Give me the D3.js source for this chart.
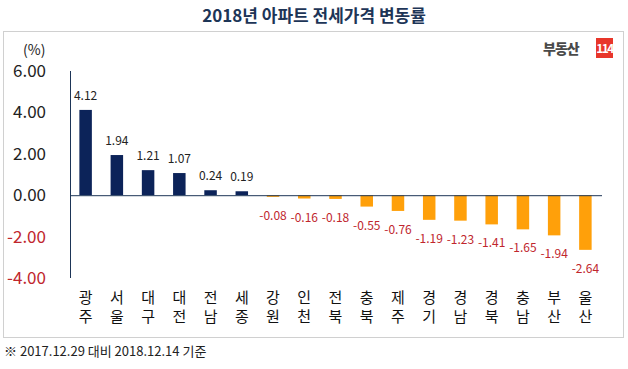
<!DOCTYPE html>
<html>
<head>
<meta charset="utf-8">
<script src="https://cdn.jsdelivr.net/npm/d3@7"></script>
<style>
  body { margin: 0; background: #fff; }
  svg { display: block; font-family: "Noto Sans CJK KR", "Noto Sans", sans-serif; }
</style>
</head>
<body>
<svg id="chart"></svg>
<script>
// data
const regions = ["광주", "서울", "대구", "대전", "전남", "세종", "강원", "인천", "전북", "충북", "제주", "경기", "경남", "경북", "충남", "부산", "울산"];
const changes = [4.12, 1.94, 1.21, 1.07, 0.24, 0.19, -0.08, -0.16, -0.18, -0.55, -0.76, -1.19, -1.23, -1.41, -1.65, -1.94, -2.64];
const yTicks = [6, 4, 2, 0, -2, -4];

const W = 628, H = 369;
const svg = d3.select("#chart").attr("width", W).attr("height", H);

// title
svg.append("text")
    .attr("x", 314).attr("y", 22)
    .attr("text-anchor", "middle")
    .attr("font-size", "17px").attr("font-weight", "bold")
    .attr("fill", "#1d3557")
    .text("2018년 아파트 전세가격 변동률");

// frame
svg.append("rect")
    .attr("x", 3.5).attr("y", 31.5).attr("width", 620).attr("height", 306)
    .attr("fill", "none").attr("stroke", "#d0d0d0");

// unit
svg.append("text")
    .attr("x", 23).attr("y", 55)
    .attr("font-size", "14px").attr("fill", "#222")
    .text("(%)");

// logo
svg.append("text")
    .attr("x", 543).attr("y", 54)
    .attr("font-size", "14px").attr("font-weight", "900")
    .attr("fill", "#4a4a4a").attr("letter-spacing", "-1")
    .text("부동산");
svg.append("rect")
    .attr("x", 596).attr("y", 38).attr("width", 17).attr("height", 20)
    .attr("fill", "#e8362a");
svg.append("text")
    .attr("x", 604.5).attr("y", 53)
    .attr("text-anchor", "middle")
    .attr("font-size", "12px").attr("font-weight", "bold")
    .attr("fill", "#fff").attr("letter-spacing", "-1.5")
    .text("114");

// scales
const x = d3.scaleBand().domain(regions).range([70, 601]).paddingInner(0.6).paddingOuter(0.3);
const y = d3.scaleLinear().domain([-4, 6]).range([278, 71]);

// y axis line
svg.append("line")
    .attr("x1", 70.5).attr("x2", 70.5)
    .attr("y1", y(6)).attr("y2", y(-4))
    .attr("stroke", "#1d3557").attr("stroke-width", 1);

// y tick labels
svg.append("g").selectAll("text")
    .data(yTicks)
    .join("text")
    .attr("x", 46).attr("y", d => y(d) + 6)
    .attr("text-anchor", "end")
    .attr("font-size", "17px")
    .attr("fill", d => d < 0 ? "#c0262d" : "#222")
    .text(d => d.toFixed(2));

// bars
svg.append("g").selectAll("rect")
    .data(changes)
    .join("rect")
    .attr("x", (d, i) => x(regions[i]))
    .attr("width", x.bandwidth())
    .attr("y", d => y(Math.max(0, d)))
    .attr("height", d => Math.abs(y(d) - y(0)))
    .attr("fill", d => d >= 0 ? "#0c2359" : "#ffa00a");

// zero line
svg.append("line")
    .attr("x1", 70).attr("x2", 602)
    .attr("y1", y(0) + 0.5).attr("y2", y(0) + 0.5)
    .attr("stroke", "#1d3557").attr("stroke-width", 1);

// value labels
svg.append("g").selectAll("text")
    .data(changes)
    .join("text")
    .attr("x", (d, i) => x(regions[i]) + x.bandwidth() / 2)
    .attr("y", d => d >= 0 ? y(d) - 10 : y(d) + 23)
    .attr("text-anchor", "middle")
    .attr("font-size", "12px")
    .attr("fill", d => d >= 0 ? "#222" : "#c0262d")
    .text(d => d.toFixed(2));

// category labels, stacked vertically
const cats = svg.append("g").selectAll("g")
    .data(regions)
    .join("g");
cats.each(function(name) {
    const g = d3.select(this);
    name.split("").forEach((ch, k) => {
        g.append("text")
            .attr("x", x(name) + x.bandwidth() / 2)
            .attr("y", 303 + k * 19)
            .attr("text-anchor", "middle")
            .attr("font-size", "15px")
            .attr("fill", "#111")
            .text(ch);
    });
});

// footnote
svg.append("text")
    .attr("x", 4).attr("y", 356)
    .attr("font-size", "13px").attr("fill", "#222")
    .text("※ 2017.12.29 대비 2018.12.14 기준");
</script>
</body>
</html>
